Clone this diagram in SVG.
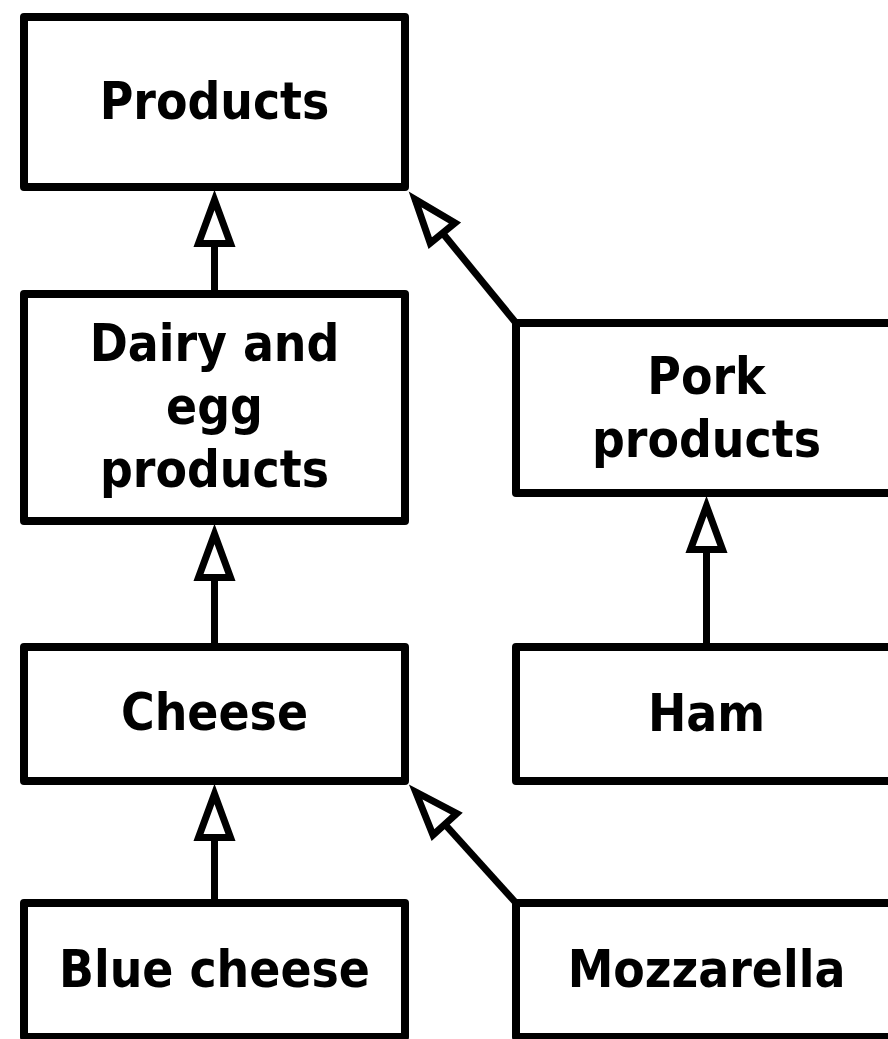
<svg xmlns="http://www.w3.org/2000/svg" width="888" height="1039" viewBox="0 0 888 1039">
<style>
.box{fill:#fff;stroke:#000;stroke-width:8;stroke-linejoin:round}
.lbl{font-family:"DejaVu Sans Condensed","DejaVu Sans","Noto Sans",sans-serif;font-stretch:condensed;font-weight:bold;font-size:51px;fill:#000;text-anchor:middle}
.edge{stroke:#000;stroke-width:7;fill:none}
</style>
<defs>
<marker id="tri" markerUnits="userSpaceOnUse" orient="auto" refX="0" refY="0" markerWidth="80" markerHeight="80" overflow="visible">
<path d="M0,0 L-43.5,-16 L-43.5,16 Z" fill="#fff" stroke="#000" stroke-width="7"/>
</marker>
</defs>
<rect width="888" height="1039" fill="#fff"/>
<g id="products"><rect class="box" x="24" y="17" width="381" height="170"/><text class="lbl" x="214.5" y="119">Products</text></g>
<g id="dairy"><rect class="box" x="24" y="294" width="381" height="227"/><text class="lbl" x="214.5" y="361">Dairy and</text><text class="lbl" x="214.5" y="424">egg</text><text class="lbl" x="214.5" y="487">products</text></g>
<g id="cheese"><rect class="box" x="24" y="647" width="381" height="134"/><text class="lbl" x="214.5" y="730">Cheese</text></g>
<g id="bluecheese"><rect class="box" x="24" y="903" width="381" height="134"/><text class="lbl" x="214.5" y="987">Blue cheese</text></g>
<g id="pork"><rect class="box" x="516" y="323" width="381" height="170"/><text class="lbl" x="706.5" y="394">Pork</text><text class="lbl" x="706.5" y="457">products</text></g>
<g id="ham"><rect class="box" x="516" y="647" width="381" height="134"/><text class="lbl" x="706.5" y="731">Ham</text></g>
<g id="mozzarella"><rect class="box" x="516" y="903" width="381" height="134"/><text class="lbl" x="706.5" y="987">Mozzarella</text></g>
<g id="connectors">
<line class="edge" x1="214.5" y1="294" x2="214.5" y2="200" marker-end="url(#tri)"/>
<line class="edge" x1="214.5" y1="647" x2="214.5" y2="534" marker-end="url(#tri)"/>
<line class="edge" x1="214.5" y1="903" x2="214.5" y2="794" marker-end="url(#tri)"/>
<line class="edge" x1="706.5" y1="647" x2="706.5" y2="506" marker-end="url(#tri)"/>
<line class="edge" x1="516" y1="323" x2="415.1" y2="199.4" marker-end="url(#tri)"/>
<line class="edge" x1="516" y1="903" x2="415.7" y2="792" marker-end="url(#tri)"/>
</g>
</svg>
